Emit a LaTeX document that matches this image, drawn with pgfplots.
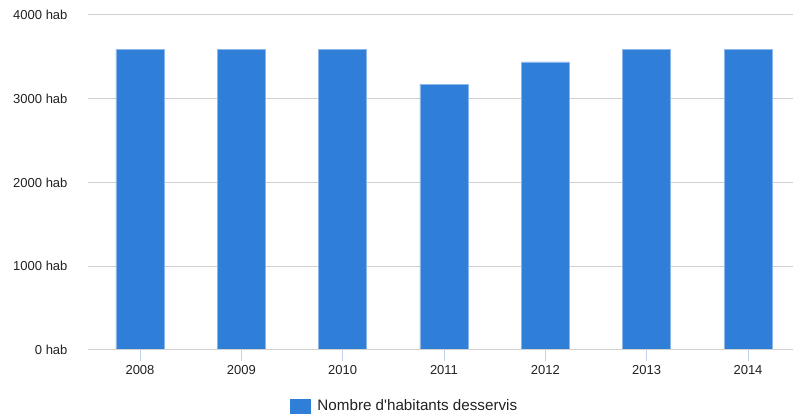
\documentclass[border=0pt]{standalone}
\usepackage{fontspec}
\setmainfont{Liberation Sans}
\usepackage{pgfplots}
\pgfplotsset{compat=1.18}

\definecolor{barblue}{HTML}{2F7ED8}
\definecolor{baredge}{HTML}{8DB6EA}
\definecolor{gridgray}{HTML}{D0D0D0}
\definecolor{ticktext}{HTML}{222222}
\definecolor{xtickc}{HTML}{BFD2EC}

\begin{document}
\begin{tikzpicture}
\path[use as bounding box] (-88pt,-64pt) rectangle (705pt,350pt);
\begin{axis}[
    scale only axis,
    width=705pt, height=335pt,
    xmin=-0.513, xmax=6.444,
    ymin=0, ymax=4000,
    xtick=data,
    xticklabels={2008,2009,2010,2011,2012,2013,2014},
    ytick={0,1000,2000,3000,4000},
    yticklabels={0 hab,1000 hab,2000 hab,3000 hab,4000 hab},
    ymajorgrids,
    grid style={gridgray, line width=1pt},
    axis line style={draw=none},
    y tick style={draw=none},
    x tick style={xtickc, line width=0.8pt},
    major tick length=11pt,
    xtick pos=bottom,
    xtick align=outside,
    tick label style={font=\fontsize{13}{15}\selectfont, text=ticktext},
    xticklabel style={yshift=-1pt},
    yticklabel style={xshift=-17pt},
    /pgf/number format/assume math mode=true,
    legend style={at={(0.449,-0.167)}, anchor=center, draw=none,
        font=\fontsize{15.2}{18}\selectfont, text=ticktext},
    ybar, bar width=48pt,
]
\addplot[fill=barblue, draw=baredge, line width=0.6pt, bar shift=0pt,
    legend image code/.code={\fill[barblue] (0pt,-7pt) rectangle (20pt,7pt); \path (25pt,0pt);}]
    coordinates {(0,3590) (1,3590) (2,3590) (3,3176) (4,3439) (5,3590) (6,3590)};
\addlegendentry{Nombre d\textquotesingle habitants desservis}
\draw[gridgray, line width=1pt] (axis cs:-0.513,0) -- (axis cs:6.444,0);
\end{axis}
\end{tikzpicture}
\end{document}
